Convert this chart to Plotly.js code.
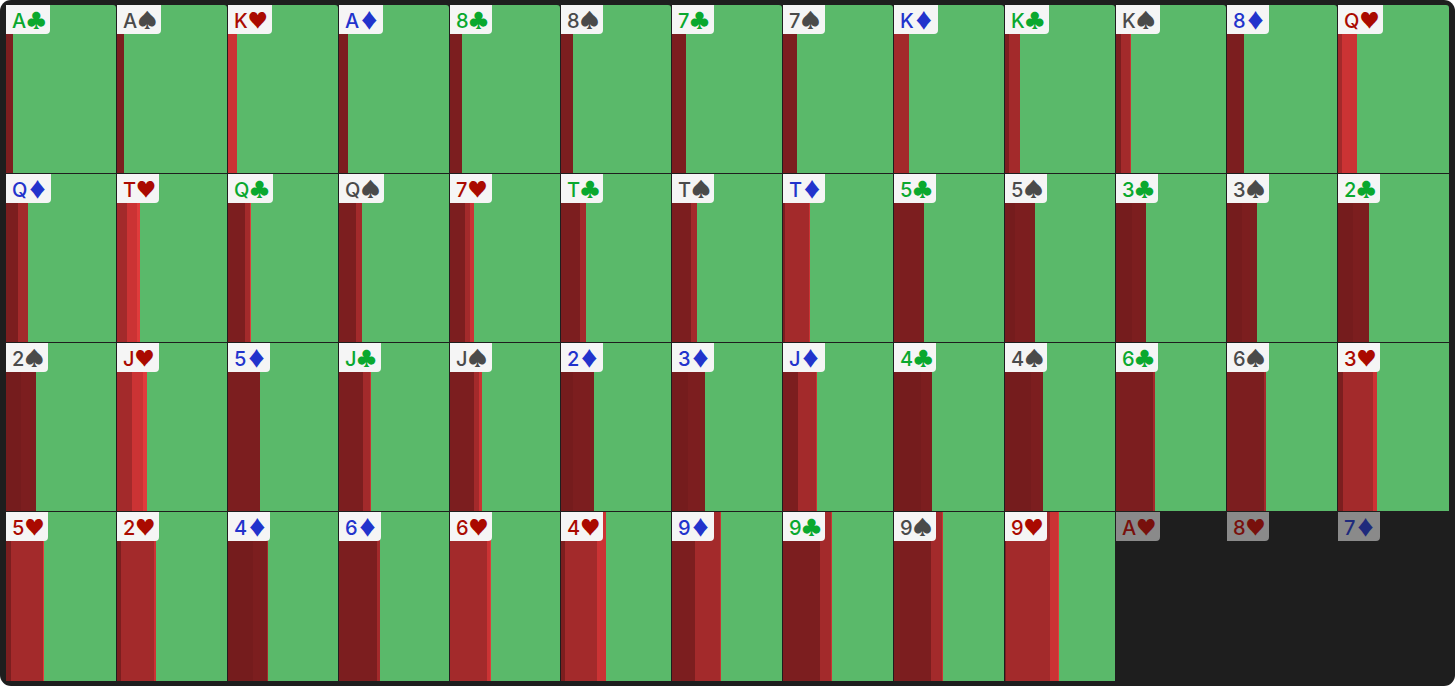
<!DOCTYPE html>
<html><head><meta charset="utf-8">
<script src="https://cdn.plot.ly/plotly-3.0.1.min.js"></script>
<style>
html,body{margin:0;padding:0;background:#fff;overflow:hidden}
#frame{position:relative;width:1455px;height:686px;background:#1e1e1e;border-radius:11px;overflow:hidden}
#chart{position:absolute;left:0;top:0;width:1455px;height:686px}
</style></head><body>
<div id="frame"><div id="chart"></div></div>
<script>
const ranks = ['A','A','K','A','8','8','7','7','K','K','K','8','Q',
               'Q','T','Q','Q','7','T','T','T','5','5','3','3','2',
               '2','J','5','J','J','2','3','J','4','4','6','6','3',
               '5','2','4','6','6','4','9','9','9','9','A','8','7'];
const suits = ['♣','♠','♥','♦','♣','♠','♣','♠','♦','♣','♠','♦','♥',
               '♦','♥','♣','♠','♥','♣','♠','♦','♣','♠','♣','♠','♣',
               '♠','♥','♦','♣','♠','♦','♦','♦','♣','♠','♣','♠','♥',
               '♥','♥','♦','♦','♥','♥','♦','♣','♠','♥','♥','♥','♦'];
const dimmed = ['A♥','8♥','7♦'];

// share of each card (percent) taken by each band, reading order
const shareA = [0,0,0,0,0,0,0,0,0,0,0,0,0,
                0,0,0,0,0,0,0,0,0,9.1,14.5,13.6,13.6,
                13.6,0,0,0,0,10.9,14.5,0,24.5,23.6,0,0,0,
                0,0,22.7,0,0,0,0,0,0,0,0,0,0];
const shareB = [6.4,6.4,0,8.2,10.9,10.9,12.7,12.7,0,3.6,4.5,15.5,0,
                10.9,0,15.5,15.5,13.6,17.3,17.3,1.4,27.3,18.2,12.7,13.6,14.5,
                13.6,0,29.1,21.8,21.8,19.1,15.5,13.6,10,10.9,33.6,33.6,4.5,
                4.5,3.6,12.7,34.5,0,3.6,20.9,33.6,33.6,0.9,0,0,0];
const shareC = [0,0,0,0,0,0,0,0,13.6,10,8.2,0,3.6,
                9.1,9.1,4.5,5.5,4.5,5.5,5.5,22.3,0,0,0,0,0,
                0,13.6,0,6.4,5,0,0,16.4,0,0,1.8,1.8,27.3,
                29.1,30,0.9,2.7,33.6,29.1,22.7,10,10,40,0,0,0];
const shareD = [0,0,8.2,0,0,0,0,0,0,0,0.9,0,13.6,
                0,9.1,0,0,3.6,0,0,0.9,0,0,0,0,0,
                0,10,0,0.9,2.3,0,0,0.9,0,0,0,0,3.6,
                0,1.8,0,0,2.7,8.2,0.9,0.9,0.9,7.3,0,0,0];
const shareE = [0,0,0.4,0,0,0,0,0,0,0,0,0,0,
                0,2.7,0.9,0,0,0,0,0,0,0,0,0,0,
                0,3.6,0,0,0,0,0,0,0,0,0,0,0,
                0.9,0,0,0,0.9,0,0,0,0,0.9,0,0,0];

const bandColors = {A:'#751c1d',B:'#7c1e1f',C:'#a32a2b',D:'#cb3334',E:'#e03c3c',G:'#5ab96a'};
const suitColors = {'♣':'#0aa82e','♠':'#4a4a4a','♦':'#2233cc','♥':'#aa0a00'};
const dimColors  = {'♦':'#1f2a7c','♥':'#78100c'};
const badgeWidth = {A:44,K:44,Q:45};

const COLS = 13;
const n = ranks.length;
const col = i => i % COLS, row = i => Math.floor(i / COLS);
const CW = i => col(i)===12 ? 1 : 110/111;
const CH = i => row(i)===3 ? 1 : 168/169;
const labels = ranks.map((r,i)=>r+suits[i]);
const isDim = labels.map(l=>dimmed.includes(l));

const bands = [['A',shareA],['B',shareB],['C',shareC],['D',shareD],['E',shareE]];
const cum = new Array(n).fill(0);
const traces = [];
function addBand(colorKey, vals){
  traces.push({type:'bar',orientation:'h',
    y:vals.map((v,i)=>row(i)+CH(i)/2),
    x:vals.map((v,i)=>v/100*CW(i)),
    base:vals.map((v,i)=>col(i)+cum[i]/100*CW(i)),
    width:vals.map((v,i)=>CH(i)),
    marker:{color:bandColors[colorKey],line:{width:0}},
    hoverinfo:'skip',showlegend:false});
  vals.forEach((v,i)=>cum[i]+=v);
}
bands.forEach(([k,v])=>addBand(k,v));
addBand('G',cum.map((c,i)=>isDim[i]?0:100-c));

const BH = 29, R = 4;
const shapes = [], annotations = [];
labels.forEach((l,i)=>{
  const W = badgeWidth[ranks[i]] || 42;
  shapes.push({type:'path',layer:'above',xref:'x',yref:'y',
    xsizemode:'pixel',ysizemode:'pixel',xanchor:col(i),yanchor:row(i),
    path:`M 0 0 L ${W} 0 L ${W} ${-(BH-R)} Q ${W} ${-BH} ${W-R} ${-BH} L 0 ${-BH} Z`,
    fillcolor:'#f5f5f5',opacity:isDim[i]?0.5:1,line:{width:0}});
  annotations.push({xref:'x',yref:'y',x:col(i),y:row(i)+14.5/169,xanchor:'left',yanchor:'middle',
    xshift:3.5,showarrow:false,align:'left',
    text:`${ranks[i]}<span style="font-family:'Noto Sans CJK JP';font-size:20px">${suits[i]}</span>`,
    font:{family:'Inter,"Liberation Sans",sans-serif',size:20,weight:500,
      color:isDim[i]?dimColors[suits[i]]:suitColors[suits[i]]}});
  if(row(i)===0){
    shapes.push({type:'path',layer:'above',xref:'x',yref:'y',
      xsizemode:'pixel',ysizemode:'pixel',xanchor:col(i)+CW(i),yanchor:0,
      path:'M -3 0 Q 0 0 0 -3 L 0 0 Z',fillcolor:'#1e1e1e',line:{width:0}});
  }
});

Plotly.newPlot('chart',traces,{
  width:1455,height:686,autosize:false,
  margin:{l:0,r:0,t:0,b:0,pad:0},
  paper_bgcolor:'rgba(0,0,0,0)',plot_bgcolor:'rgba(0,0,0,0)',
  barmode:'overlay',bargap:0,showlegend:false,
  xaxis:{domain:[6/1455,1449/1455],range:[0,13],visible:false,fixedrange:true},
  yaxis:{domain:[5/686,681/686],range:[4,0],visible:false,fixedrange:true},
  shapes,annotations
},{displayModeBar:false,staticPlot:true});
</script></body></html>
